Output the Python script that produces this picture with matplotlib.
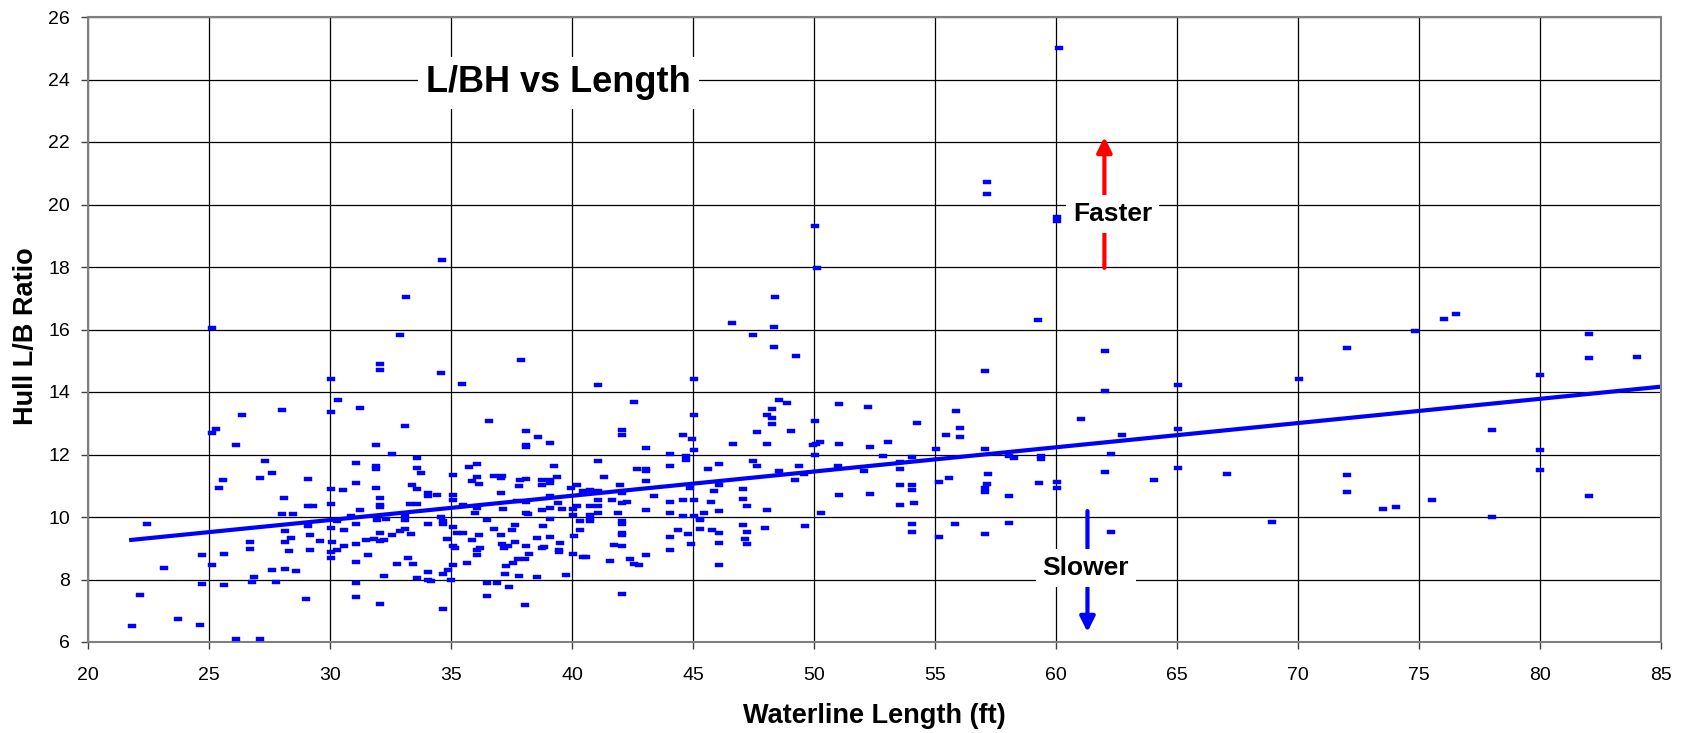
import matplotlib
matplotlib.use("Agg")
import matplotlib.pyplot as plt

plt.rcParams['font.family'] = ['Liberation Sans', 'DejaVu Sans']

# ---- data ----
length_ft = [
    25.12, 30.03, 26.36, 28.0, 30.03, 25.29, 25.12, 26.11, 27.33, 27.6, 27.11, 29.1, 25.56, 25.41, 28.1, 30.03,
    30.03, 29.1, 29.29, 28.0, 28.49, 22.44, 29.1, 28.15, 30.03, 28.4, 29.18, 29.59, 26.68, 28.15, 26.68, 25.62,
    24.73, 28.32, 29.18, 30.03, 30.03, 25.12, 23.14, 27.6, 28.15, 28.59, 26.86, 26.78, 27.77, 24.73, 25.62, 22.15,
    29.0, 23.73, 21.82, 24.63, 26.11, 27.11,
    32.88, 32.07, 32.07, 34.57, 30.34, 31.25, 33.09, 31.89, 32.58, 33.58, 31.09, 31.89, 31.89, 33.58, 33.75, 35.08,
    31.09, 33.37, 33.58, 31.89, 30.52, 34.06, 34.06, 34.41, 35.08, 32.07, 32.07, 32.07, 33.31, 33.58, 31.25, 35.08,
    30.87, 30.28, 31.09, 31.93, 32.3, 33.09, 33.09, 34.06, 34.57, 34.68, 34.68, 30.58, 32.07, 32.58, 32.88, 33.09,
    33.33, 35.08, 35.23, 31.5, 31.82, 32.07, 32.23, 30.58, 31.09, 30.1, 30.28, 34.82, 35.08, 35.16, 31.58, 33.24,
    31.09, 32.78, 33.41, 35.08, 34.88, 34.68, 32.23, 33.58, 34.06, 34.06, 34.16, 35.0, 31.09, 31.09, 32.07, 34.68,
    37.91, 35.47, 36.57, 38.08, 38.59, 39.08, 38.08, 38.08, 36.08, 35.76, 39.26, 36.08, 36.76, 37.12, 37.06, 35.86,
    36.16, 37.84, 38.08, 38.77, 39.08, 39.08, 38.77, 39.38, 37.08, 37.8, 39.96, 40.19, 35.51, 36.06, 37.16, 37.72,
    38.08, 39.08, 39.44, 39.58, 38.75, 39.08, 38.08, 38.2, 36.0, 40.06, 40.2, 40.06, 36.5, 39.08, 35.5, 36.78,
    37.66, 37.5, 38.79, 35.87, 36.16, 37.08, 37.66, 38.57, 39.08, 39.5, 40.09, 40.31, 36.09, 36.19, 37.1, 37.17,
    37.35, 38.11, 38.78, 38.83, 39.47, 39.47, 40.06, 40.46, 36.06, 38.23, 37.77, 38.06, 37.58, 35.65, 37.28, 37.23,
    37.83, 38.57, 39.74, 36.48, 36.9, 37.4, 36.48, 38.06,
    41.07, 45.06, 42.57, 42.06, 42.06, 45.06, 44.57, 44.96, 43.07, 45.06, 44.06, 44.72, 44.72, 41.07, 44.06, 42.7,
    43.07, 43.07, 41.33, 43.07, 41.98, 44.89, 45.62, 40.46, 40.75, 41.07, 42.06, 43.4, 41.65, 41.07, 42.06, 42.27,
    44.06, 44.57, 45.06, 40.75, 41.07, 43.07, 41.07, 41.9, 44.06, 40.75, 40.75, 40.75, 42.06, 42.06, 44.57, 45.06,
    45.27, 45.46, 45.27, 40.34, 44.38, 42.06, 42.06, 44.06, 44.8, 41.74, 42.06, 44.9, 44.06, 40.57, 41.58, 42.41,
    43.07, 42.57, 42.75, 42.06,
    46.61, 48.33, 47.47, 48.36, 49.24, 48.55, 48.9, 48.25, 48.06, 48.25, 48.25, 47.66, 49.06, 46.64, 48.06, 50.06,
    49.96, 50.08, 50.26, 50.06, 46.06, 47.47, 47.66, 48.55, 49.38, 49.23, 49.6, 46.06, 45.85, 47.06, 47.06, 47.23,
    45.76, 46.06, 48.06, 50.3, 45.3, 45.79, 46.06, 47.06, 47.23, 47.96, 49.64, 46.06, 47.13, 47.23, 46.06,
    59.24, 57.05, 51.05, 52.22, 55.85, 54.25, 56.04, 55.45, 56.04, 51.05, 52.3, 53.06, 55.06, 57.05, 52.86, 54.06,
    51.0, 53.56, 53.56, 52.05, 58.07, 58.26, 59.38, 59.38, 57.21, 55.15, 55.56, 53.56, 54.06, 54.06, 57.05, 57.05,
    57.16, 51.05, 52.3, 53.56, 54.15, 58.06, 59.31, 60.05, 60.05, 54.06, 54.06, 55.16, 55.81, 57.05, 58.06,
    62.04, 62.04, 65.05, 70.04, 72.04, 61.05, 62.74, 65.05, 62.29, 62.04, 64.04, 65.05, 67.05, 72.04, 72.04, 68.94,
    62.29,
    76.03, 76.53, 74.83, 82.01, 82.01, 84.01, 80.01, 78.03, 80.01, 80.01, 75.52, 73.53, 74.03, 78.03, 82.01,
    48.4, 50.04, 50.13, 33.15, 34.64, 60.12, 57.16, 57.16, 60.05, 60.05,
]

lb_ratio = [
    16.06, 14.42, 13.27, 13.41, 13.37, 12.83, 12.70, 12.31, 11.80, 11.40, 11.25, 11.22, 11.2, 10.93, 10.62, 10.9,
    10.43, 10.34, 10.36, 10.1, 10.1, 9.78, 9.7, 9.56, 9.64, 9.34, 9.44, 9.23, 9.19, 9.19, 8.99, 8.83,
    8.78, 8.9, 8.96, 8.89, 8.69, 8.48, 8.37, 8.3, 8.33, 8.27, 8.09, 7.93, 7.93, 7.86, 7.83, 7.49,
    7.37, 6.73, 6.5, 6.54, 6.09, 6.09,
    15.81, 14.9, 14.7, 14.6, 13.73, 13.5, 12.91, 12.29, 12.03, 11.89, 11.74, 11.64, 11.55, 11.57, 11.41, 11.35,
    11.1, 11.04, 10.91, 10.93, 10.85, 10.77, 10.67, 10.69, 10.72, 10.62, 10.4, 10.33, 10.42, 10.43, 10.22, 10.53,
    10.02, 9.88, 9.79, 9.9, 9.94, 9.9, 10.04, 9.78, 10.0, 9.88, 9.77, 9.58, 9.5, 9.42, 9.56, 9.61,
    9.47, 9.67, 9.5, 9.27, 9.29, 9.22, 9.27, 9.08, 9.13, 9.2, 8.96, 9.29, 9.08, 9.02, 8.78, 8.69,
    8.57, 8.51, 8.51, 8.46, 8.32, 8.18, 8.11, 8.05, 8.23, 7.98, 7.95, 8.0, 7.88, 7.43, 7.23, 7.06,
    15.04, 14.25, 13.07, 12.74, 12.57, 12.38, 12.29, 12.23, 11.7, 11.61, 11.63, 11.27, 11.31, 11.31, 11.25, 11.14,
    11.05, 11.19, 11.22, 11.18, 11.17, 11.08, 11.01, 11.29, 10.78, 10.98, 10.93, 11.02, 10.38, 10.29, 10.27, 10.51,
    10.49, 10.68, 10.45, 10.27, 10.24, 10.28, 10.14, 10.1, 10.13, 10.27, 10.36, 10.06, 9.92, 9.94, 9.5, 9.63,
    9.73, 9.58, 9.71, 9.28, 9.41, 9.42, 9.2, 9.32, 9.35, 9.16, 9.4, 9.58, 8.96, 9.0, 9.14, 9.01,
    9.07, 9.06, 9.0, 9.05, 8.95, 8.89, 8.81, 8.71, 8.78, 8.83, 8.67, 8.67, 8.53, 8.54, 8.43, 8.17,
    8.1, 8.07, 8.15, 7.9, 7.9, 7.75, 7.46, 7.19,
    14.21, 14.41, 13.69, 12.77, 12.61, 13.26, 12.64, 12.49, 12.22, 12.13, 12.01, 11.95, 11.82, 11.78, 11.64, 11.55,
    11.55, 11.47, 11.29, 11.15, 11.04, 10.94, 11.54, 10.84, 10.88, 10.83, 10.78, 10.68, 10.56, 10.56, 10.46, 10.49,
    10.49, 10.56, 10.53, 10.36, 10.36, 10.23, 10.14, 10.14, 10.12, 10.06, 9.95, 9.88, 9.86, 9.79, 10.02, 10.03,
    9.92, 10.13, 9.62, 9.88, 9.58, 9.48, 9.42, 9.37, 9.47, 9.12, 9.06, 9.14, 8.96, 8.71, 8.58, 8.65,
    8.78, 8.5, 8.47, 7.53,
    16.21, 16.07, 15.82, 15.45, 15.16, 13.73, 13.64, 13.45, 13.26, 13.18, 12.99, 12.71, 12.74, 12.35, 12.35, 13.06,
    12.3, 12.33, 12.41, 11.98, 11.69, 11.8, 11.64, 11.46, 11.63, 11.19, 11.39, 11.02, 10.82, 10.91, 10.57, 10.34,
    10.47, 10.2, 10.21, 10.13, 9.95, 9.58, 9.49, 9.73, 9.51, 9.65, 9.71, 9.16, 9.3, 9.14, 8.48,
    16.3, 14.66, 13.62, 13.53, 13.39, 13.01, 12.84, 12.63, 12.56, 12.34, 12.24, 12.4, 12.18, 12.17, 11.95, 11.92,
    11.64, 11.75, 11.54, 11.46, 11.96, 11.89, 11.96, 11.86, 11.39, 11.11, 11.26, 11.03, 11.01, 10.86, 10.93, 10.79,
    11.06, 10.69, 10.74, 10.4, 10.44, 10.68, 11.09, 11.13, 10.92, 9.78, 9.51, 9.37, 9.79, 9.47, 9.8,
    15.32, 14.04, 14.24, 14.43, 15.42, 13.15, 12.63, 12.82, 12.03, 11.45, 11.19, 11.56, 11.38, 11.34, 10.81, 9.83,
    9.52,
    16.33, 16.5, 15.95, 15.87, 15.09, 15.12, 14.55, 12.78, 12.13, 11.51, 10.55, 10.26, 10.33, 10.01, 10.67,
    17.04, 19.32, 17.98, 17.04, 18.21, 25.0, 20.71, 20.35, 19.6, 19.47,
]

trend_x = [21.7, 85.0]
trend_y = [9.26, 14.17]

x_ticks = list(range(20, 86, 5))
y_ticks = list(range(6, 27, 2))

title_text = "L/BH vs Length"
x_label = "Waterline Length (ft)"
y_label = "Hull L/B Ratio"

# ---- figure ----
W, H = 1683, 733
fig = plt.figure(figsize=(W / 100, H / 100), dpi=100)
ax = fig.add_axes([88 / W, 1 - 642 / H, (1661 - 88) / W, (642 - 17) / H])

ax.set_xlim(20, 85)
ax.set_ylim(6, 26)
ax.set_xticks(x_ticks)
ax.set_yticks(y_ticks)
ax.grid(True, color='black', lw=0.9, zorder=0)
ax.set_axisbelow(True)
for s in ax.spines.values():
    s.set_color('#808080')
    s.set_linewidth(1.5)
ax.tick_params(axis='x', direction='out', length=5, width=1, color='#404040', labelsize=14, pad=13)
ax.tick_params(axis='y', direction='out', length=5, width=1, color='#404040', labelsize=14, pad=8)

marker = [(-1, -0.44), (1, -0.44), (1, 0.44), (-1, 0.44), (-1, -0.44)]
ax.plot(length_ft, lb_ratio, ls='none', marker=marker, ms=6, mfc='#0000FF', mec='#0000FF',
        mew=0.3, zorder=3)
ax.plot(trend_x, trend_y, color='#0000FF', lw=3, solid_capstyle='butt', zorder=2)

ax.set_xlabel(x_label, fontsize=19.5, fontweight='bold')
ax.set_ylabel(y_label, fontsize=19.5, fontweight='bold')
ax.xaxis.set_label_coords(0.5, -0.098)
ax.yaxis.set_label_coords(-0.031, 0.49)

ax.text(39.44, 23.89, title_text, fontsize=26, fontweight='bold', ha='center', va='center',
        bbox=dict(facecolor='white', edgecolor='none', pad=6), zorder=6)

# Faster arrow (red)
ax.annotate('', xy=(62.0, 22.16), xytext=(62.0, 17.97),
            arrowprops=dict(arrowstyle='-|>,head_width=0.45,head_length=0.9', color='#FF0000',
                            lw=3, shrinkA=0, shrinkB=0), zorder=4)
ax.text(62.33, 19.70, "Faster", fontsize=19, fontweight='bold', ha='center', va='center',
        bbox=dict(facecolor='white', edgecolor='none', pad=5), zorder=6)

# Slower arrow (blue)
ax.annotate('', xy=(61.3, 6.32), xytext=(61.3, 10.19),
            arrowprops=dict(arrowstyle='-|>,head_width=0.45,head_length=0.9', color='#0000FF',
                            lw=3, shrinkA=0, shrinkB=0), zorder=4)
ax.text(61.23, 8.37, "Slower", fontsize=19, fontweight='bold', ha='center', va='center',
        bbox=dict(facecolor='white', edgecolor='none', pad=5), zorder=6)

fig.savefig("out.png", dpi=100)
